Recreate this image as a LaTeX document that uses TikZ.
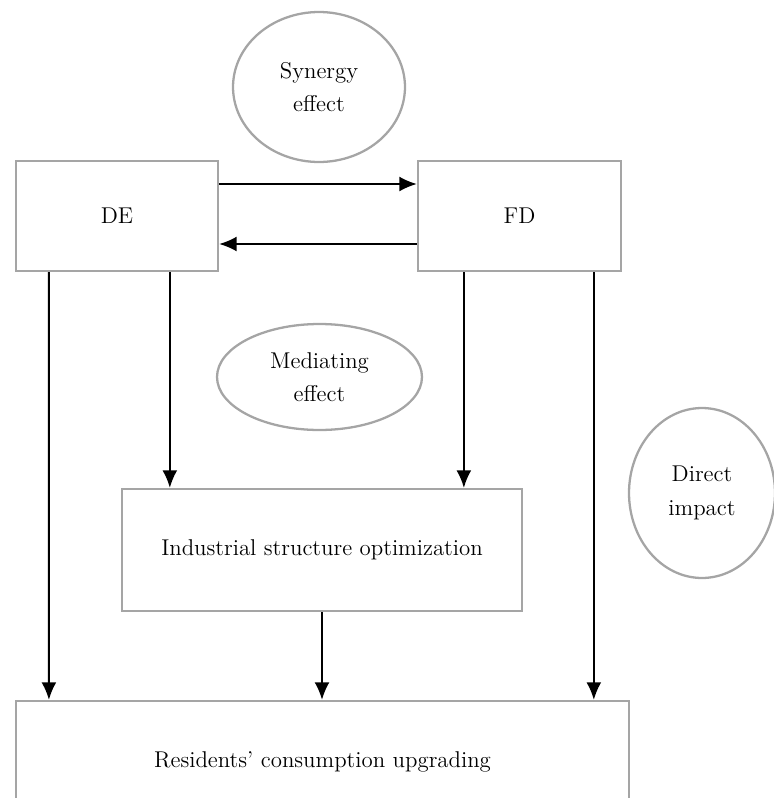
\documentclass[tikz,border=0pt]{standalone}
\usepackage{xcolor}
\usepackage{tikz}
\usetikzlibrary{shapes.geometric, arrows.meta, positioning, calc}

\definecolor{boxgray}{RGB}{165,165,165}

\begin{document}
\begin{tikzpicture}[
    x=0.02cm, y=-0.02cm,
    block/.style={rectangle, draw=boxgray, line width=1.3pt, inner sep=0pt, font=\fontsize{13}{19}\selectfont},
    effect/.style={ellipse, draw=boxgray, line width=1.3pt, inner sep=0pt, align=center, font=\fontsize{13}{19}\selectfont},
    flow/.style={line width=1.1pt, -{Latex[length=10pt, width=8.5pt]}}
]
\useasboundingbox (0,0) rectangle (774,798);

% Blocks
\node[block, minimum width=4.04cm, minimum height=2.2cm] (de) at (117,216) {DE};
\node[block, minimum width=4.06cm, minimum height=2.2cm] (fd) at (519.5,216) {FD};
\node[block, minimum width=8cm, minimum height=2.44cm] (iso) at (322,550) {Industrial structure optimization};
\node[block, minimum width=12.26cm, minimum height=2.44cm] (rcu) at (322.5,762) {Residents' consumption upgrading};

% Effects
\node[effect, minimum width=3.44cm, minimum height=3cm] (syn) at (319,87) {Synergy\\effect};
\node[effect, minimum width=4.1cm, minimum height=2.12cm] (med) at (319.5,377) {Mediating\\effect};
\node[effect, minimum width=2.92cm, minimum height=3.4cm] (dir) at (702,493) {Direct\\impact};

% Relations
\draw[flow] ([yshift=0.64cm]de.east) -- ([yshift=0.64cm]fd.west);
\draw[flow] ([yshift=-0.56cm]fd.west) -- ([yshift=-0.56cm]de.east);
\draw[flow] ([xshift=0.68cm]de.south west) -- ([xshift=0.68cm]rcu.north west);
\draw[flow] ([xshift=3.1cm]de.south west) -- ([xshift=3.1cm]de.south west |- iso.north);
\draw[flow] ([xshift=0.94cm]fd.south west) -- ([xshift=0.94cm]fd.south west |- iso.north);
\draw[flow] ([xshift=3.54cm]fd.south west) -- ([xshift=3.54cm]fd.south west |- rcu.north);
\draw[flow] (iso.south) -- (iso.south |- rcu.north);

\end{tikzpicture}
\end{document}
